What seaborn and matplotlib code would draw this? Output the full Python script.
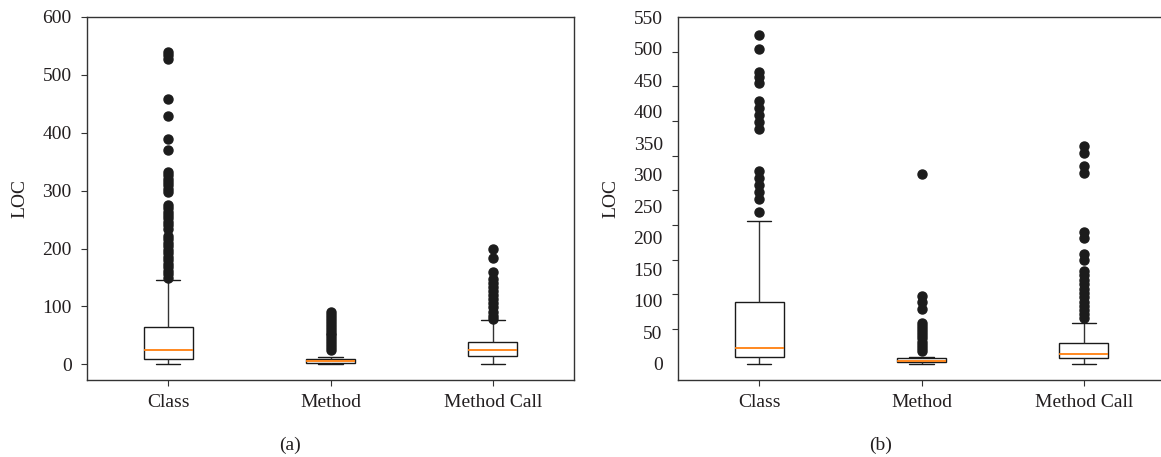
import numpy as np
import pandas as pd
import matplotlib
matplotlib.use("Agg")
import matplotlib.pyplot as plt
import seaborn as sns
from matplotlib.ticker import FixedLocator

# ---------------- data ----------------
categories = ["Class", "Method", "Method Call"]

# box summaries: [low whisker, Q1, median, Q3, high whisker]
a_class_box = [0, 9, 25, 64, 146]
a_method_box = [0, 2, 5, 10, 12]
a_call_box = [0, 14, 25, 39, 76]

a_class_fliers = [540, 535, 528, 458, 429, 390, 370, 333, 327, 321, 315, 309,
                  303, 297, 276, 270, 264, 258, 252, 246, 240, 234, 222, 216,
                  210, 204, 198, 192, 186, 180, 174, 168, 162, 156, 150]
a_method_fliers = [90, 85, 80, 75, 70, 65, 60, 55, 50, 45, 40, 35, 30, 25]
a_call_fliers = [200, 184, 160, 148, 141, 134, 127, 120, 113, 106, 99, 91, 84, 78]

b_class_box = [0, 10, 25, 97, 226]
b_method_box = [0, 2, 4, 9, 10]
b_call_box = [0, 9, 15, 32, 64]

b_class_fliers = [521, 499, 462, 455, 445, 417, 406, 394, 383, 373,
                  306, 294, 284, 272, 262, 240]
b_method_fliers = [301, 107, 97, 86, 65, 60, 55, 50, 45, 40, 35, 30, 25, 20]
b_call_fliers = [345, 334, 314, 302, 209, 199, 174, 164, 147, 140, 133, 126,
                 119, 112, 105, 98, 91, 85, 79, 73]

a_yticks = [0, 100, 200, 300, 400, 500, 600]
b_yticks = [0, 50, 100, 150, 200, 250, 300, 350, 400, 450, 500, 550]
b_ytick_marks = [0, 55, 110, 165, 220, 275, 330, 385, 440, 495, 550]

REPS = 100


def sample(box, fliers):
    lo, q1, med, q3, hi = box
    return np.concatenate([[lo], np.repeat(q1, REPS), np.repeat(med, REPS),
                           np.repeat(q3, REPS), [hi], fliers])


def frame(boxes, fliers):
    parts = []
    for cat, bx, fl in zip(categories, boxes, fliers):
        v = sample(bx, fl)
        parts.append(pd.DataFrame({"category": cat, "LOC": v}))
    return pd.concat(parts, ignore_index=True)


df_a = frame([a_class_box, a_method_box, a_call_box],
             [a_class_fliers, a_method_fliers, a_call_fliers])
df_b = frame([b_class_box, b_method_box, b_call_box],
             [b_class_fliers, b_method_fliers, b_call_fliers])

# ---------------- style ----------------
sns.set_style("ticks")
TXT = "#231f20"
plt.rcParams["font.family"] = ["Liberation Serif", "DejaVu Serif"]
plt.rcParams["font.size"] = 14
plt.rcParams["text.color"] = TXT
plt.rcParams["axes.labelcolor"] = TXT
plt.rcParams["xtick.color"] = "#333333"
plt.rcParams["ytick.color"] = "#333333"
plt.rcParams["xtick.labelcolor"] = TXT
plt.rcParams["ytick.labelcolor"] = TXT

fig = plt.figure(figsize=(11.61, 4.57), dpi=100)
W, H = 1161, 457
ax_a = fig.add_axes([87 / W, (H - 380) / H, 487 / W, 363 / H])
ax_b = fig.add_axes([678 / W, (H - 380) / H, 487 / W, 363 / H])

box_kws = dict(
    order=categories, width=0.3, color="white", linecolor="#1a1a1a",
    linewidth=1.0, fliersize=6.5,
    medianprops={"color": "#ff7f0e", "linewidth": 1.3},
    whiskerprops={"color": "#333333", "linewidth": 1.0},
    capprops={"color": "#1a1a1a", "linewidth": 1.0},
    boxprops={"facecolor": "white", "edgecolor": "#1a1a1a"},
    flierprops={"marker": "o", "markerfacecolor": "#1c1c1c",
                "markeredgecolor": "#1c1c1c", "markersize": 6.5},
)

sns.boxplot(data=df_a, x="category", y="LOC", ax=ax_a, **box_kws)
sns.boxplot(data=df_b, x="category", y="LOC", ax=ax_b, **box_kws)

for ax in (ax_a, ax_b):
    ax.set_xlim(-0.5, 2.5)
    ax.set_xlabel("")
    ax.set_ylabel("LOC", fontsize=14)
    ax.yaxis.set_label_coords(-0.12, 0.5)
    for s in ax.spines.values():
        s.set_visible(True)
        s.set_color("#333333")
        s.set_linewidth(1.0)
    ax.tick_params(axis="x", length=4, width=0.8, pad=6, labelsize=14)
    ax.tick_params(axis="y", labelsize=14)
    ax.grid(False)

ax_a.set_ylim(-27, 600)
ax_a.yaxis.set_major_locator(FixedLocator(a_yticks))
ax_a.tick_params(axis="y", which="major", length=4, width=0.8, pad=7)

ax_b.set_ylim(-26, 550)
ax_b.yaxis.set_major_locator(FixedLocator(b_yticks))
ax_b.yaxis.set_minor_locator(FixedLocator(b_ytick_marks))
ax_b.tick_params(axis="y", which="major", length=4, width=0, pad=7)
ax_b.tick_params(axis="y", which="minor", length=4, width=0.8)

fig.text(290 / W, 1 - 445 / H, "(a)", ha="center", va="center", fontsize=14)
fig.text(881 / W, 1 - 445 / H, "(b)", ha="center", va="center", fontsize=14)

fig.savefig("out.png", dpi=100)
